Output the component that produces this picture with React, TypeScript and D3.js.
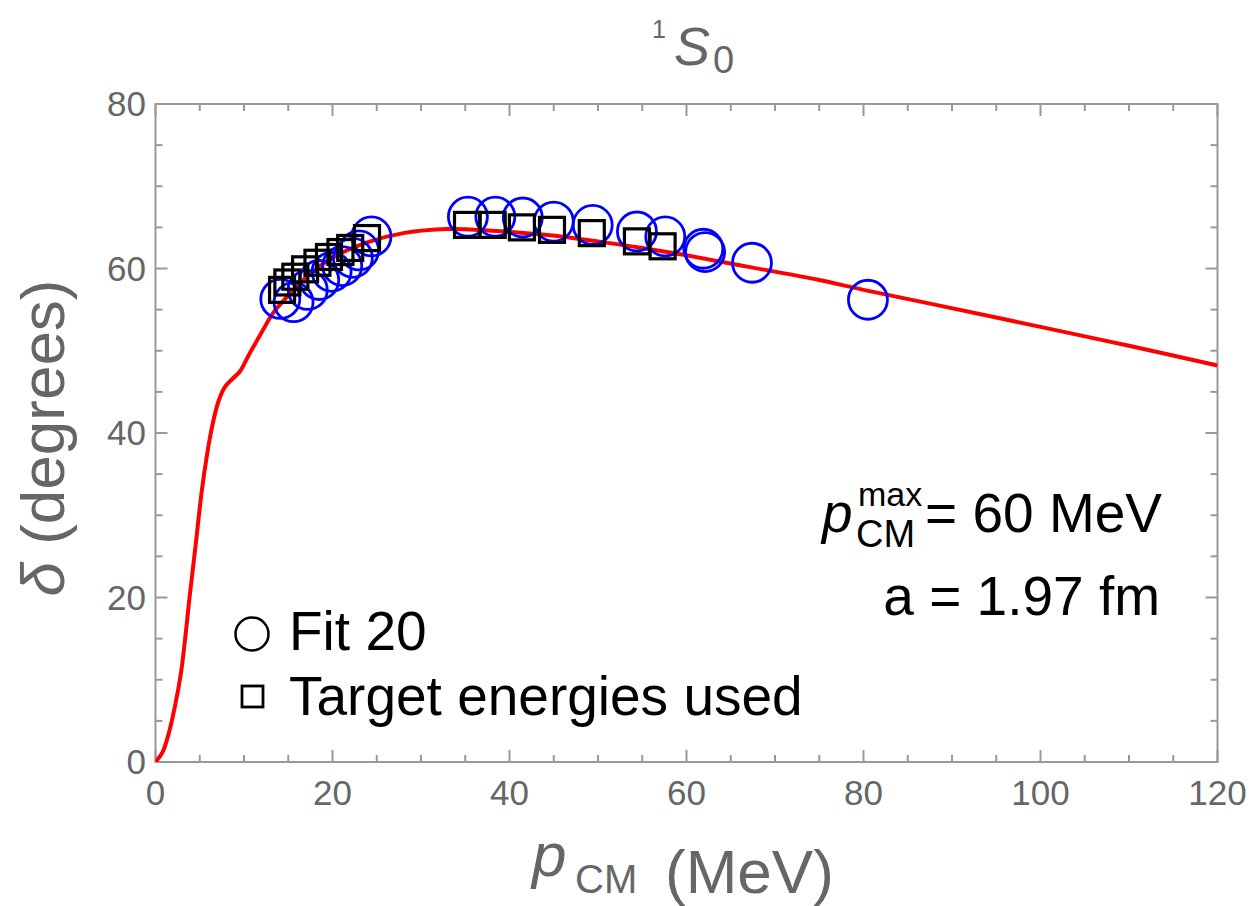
import React from "react";
import * as d3 from "d3";

const curveP = [0,0.8,1.5,2.2,2.9,3.9,4.6,5.2,5.8,6.4,7.1,7.85,9.0,9.55,10.5,11.5,12.4,13.3,15,17,20,24,28,33,38,44,50,55,60,67,75,80,89,100,110,120];
const curveD = [0,1.2,3.5,6.8,11,20.5,27,32.7,37.2,40.8,43.8,45.6,46.9,47.5,49.4,51.3,53.0,54.6,56.7,58.9,61.3,63.2,64.3,64.8,64.6,64.1,63.3,62.5,61.6,60.2,58.6,57.4,55.4,52.9,50.6,48.2];

const fitP = [14.1,15.6,17.2,18.5,19.9,21.1,22.3,23.0,24.4,35.3,38.4,41.5,45.0,49.4,54.4,57.6,61.9,62.1,67.4,80.5];
const fitD = [56.3,55.9,57.4,58.6,59.6,60.3,61.3,62.2,63.9,66.3,66.3,66.2,65.7,65.3,64.5,63.9,62.4,62.0,60.7,56.2];

const targP = [14.3,14.9,15.8,16.9,18.3,19.6,20.9,22.0,23.9,35.2,38.1,41.4,44.8,49.3,54.4,57.3];
const targD = [57.4,58.3,59.0,59.9,60.7,61.4,62.0,62.5,63.7,65.3,65.3,65.0,64.7,64.3,63.3,62.7];

const xMajor = [0,20,40,60,80,100,120];
const yMajor = [0,20,40,60,80];

const W = 1252, H = 906;
const L = 155.5, R = 1217.5, T = 104, B = 762;
const grey = "#666";
const frameC = "#999";
const FONT = "'Liberation Sans', Arial, Helvetica, sans-serif";

export default function App() {
  const x = d3.scaleLinear().domain([0,120]).range([L,R]);
  const y = d3.scaleLinear().domain([0,80]).range([B,T]);
  const curve = curveP.map((p,i) => [p, curveD[i]] as [number,number]);
  const line = d3.line<[number,number]>().x(d => x(d[0])).y(d => y(d[1])).curve(d3.curveCatmullRom.alpha(0.5));
  const xMinor = d3.range(0,121,5);
  const yMinor = d3.range(0,81,5);
  const sq = 25;
  return (
    <svg width={W} height={H} style={{position:"absolute",left:0,top:0,background:"#fff"}} fontFamily={FONT}>
      <defs>
        <clipPath id="clip"><rect x={L} y={T} width={R-L} height={B-T} /></clipPath>
      </defs>
      <rect x={0} y={0} width={W} height={H} fill="#fff" />
      {/* frame */}
      <rect x={L} y={T} width={R-L} height={B-T} fill="none" stroke={frameC} strokeWidth={2} />
      {xMinor.map(v => {
        const len = v % 20 === 0 ? 12 : 7;
        return <g key={"xt"+v}>
          <line x1={x(v)} x2={x(v)} y1={B} y2={B-len} stroke={frameC} strokeWidth={2} />
          <line x1={x(v)} x2={x(v)} y1={T} y2={T+len} stroke={frameC} strokeWidth={2} />
        </g>;
      })}
      {yMinor.map(v => {
        const len = v % 20 === 0 ? 12 : 7;
        return <g key={"yt"+v}>
          <line x1={L} x2={L+len} y1={y(v)} y2={y(v)} stroke={frameC} strokeWidth={2} />
          <line x1={R} x2={R-len} y1={y(v)} y2={y(v)} stroke={frameC} strokeWidth={2} />
        </g>;
      })}
      {xMajor.map(v => (
        <text key={"xl"+v} x={x(v)} y={805} textAnchor="middle" fontSize={35} fill={grey}>{v}</text>
      ))}
      {yMajor.map(v => (
        <text key={"yl"+v} x={146} y={y(v)+12} textAnchor="end" fontSize={35} fill={grey}>{v}</text>
      ))}
      {/* curve */}
      <path d={line(curve) || ""} fill="none" stroke="#ff0000" strokeWidth={4} clipPath="url(#clip)" />
      {/* fit circles */}
      {fitP.map((p,i) => (
        <circle key={"c"+i} cx={x(p)} cy={y(fitD[i])} r={19.5} fill="none" stroke="#0000ff" strokeWidth={2.8} />
      ))}
      {/* target squares */}
      {targP.map((p,i) => (
        <rect key={"s"+i} x={x(p)-sq/2} y={y(targD[i])-sq/2} width={sq} height={sq} fill="none" stroke="#000" strokeWidth={3.2} />
      ))}
      {/* title */}
      <text x={652} y={38} fontSize={25} fill={grey}>1</text>
      <text x={674} y={65} fontSize={54} fill={grey} fontStyle="italic">S</text>
      <text x={713} y={73} fontSize={38} fill={grey}>0</text>
      {/* legend */}
      <circle cx={252} cy={634} r={16.5} fill="none" stroke="#000" strokeWidth={2.5} />
      <text x={289} y={650} fontSize={55} fill="#000">Fit 20</text>
      <rect x={242} y={686} width={21} height={21} fill="none" stroke="#000" strokeWidth={2.8} />
      <text x={289} y={715} fontSize={55} fill="#000">Target energies used</text>
      {/* annotation */}
      <text x={822} y={532} fontSize={55} fill="#000" fontStyle="italic">p</text>
      <text x={856} y={547} fontSize={38} fill="#000">CM</text>
      <text x={858} y={506} fontSize={34} fill="#000">max</text>
      <text x={1162} y={532} fontSize={55} fill="#000" textAnchor="end">= 60 MeV</text>
      <text x={1160} y={615} fontSize={55} fill="#000" textAnchor="end">a = 1.97 fm</text>
      {/* axis labels */}
      <text x={532} y={876} fontSize={62} fill={grey} fontStyle="italic">p</text>
      <text x={575} y={893} fontSize={40} fill={grey}>CM</text>
      <text x={665} y={893} fontSize={62} fill={grey}>(MeV)</text>
      <text transform="translate(64,438) rotate(-90)" textAnchor="middle" fontSize={62} fill={grey}>
        <tspan fontStyle="italic">δ</tspan> (degrees)
      </text>
    </svg>
  );
}
